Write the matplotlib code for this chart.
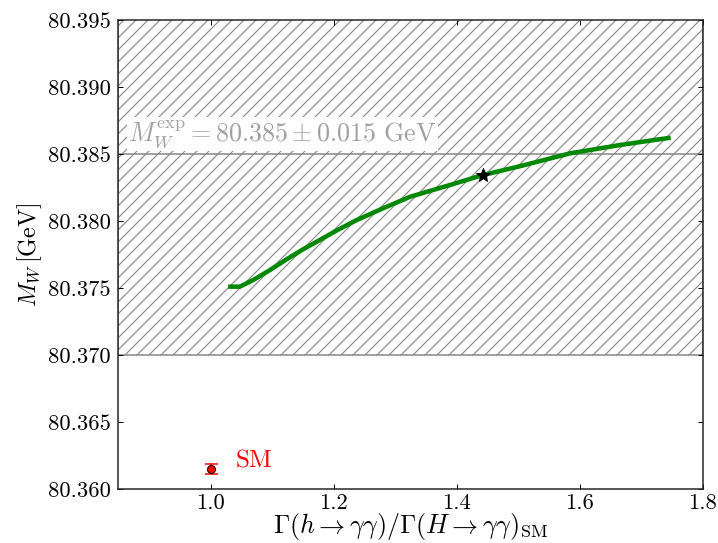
import matplotlib
matplotlib.use("Agg")
import matplotlib.pyplot as plt
from matplotlib.ticker import FormatStrFormatter, FixedLocator

plt.rcParams['font.family'] = 'serif'
plt.rcParams['font.serif'] = ['cmr10', 'DejaVu Serif']
plt.rcParams['mathtext.fontset'] = 'cm'
plt.rcParams['axes.formatter.use_mathtext'] = True
plt.rcParams['hatch.color'] = '#858585'
plt.rcParams['hatch.linewidth'] = 1.1

# data
curve_x = [1.028, 1.047, 1.069, 1.096, 1.123, 1.150, 1.177, 1.204, 1.237,
           1.280, 1.324, 1.389, 1.442, 1.500, 1.584, 1.665, 1.7475]
curve_y = [80.37510, 80.37510, 80.37560, 80.37634, 80.37714, 80.37789,
           80.37858, 80.37928, 80.38007, 80.38095, 80.38181, 80.38269,
           80.38343, 80.38406, 80.38505, 80.38567, 80.38622]
star_x = [1.4417]
star_y = [80.38343]
sm_x = [1.0]
sm_y = [80.36147]
sm_err = [0.00036]
mw_exp = 80.385
mw_err = 0.015
xticks = [1.0, 1.2, 1.4, 1.6, 1.8]
yticks = [80.360, 80.365, 80.370, 80.375, 80.380, 80.385, 80.390, 80.395]

fig = plt.figure(figsize=(718/72, 543/72), dpi=72)
ax = fig.add_axes([118/718, 54/543, 585/718, 469/543])

ax.axhspan(mw_exp - mw_err, mw_exp + mw_err, facecolor='none',
           edgecolor='#858585', hatch='//', linewidth=1.5, zorder=1)
ax.axhline(mw_exp, color='#858585', linewidth=1.5, zorder=1)

ax.plot(curve_x, curve_y, color='#008800', linewidth=4.5, zorder=3,
        solid_capstyle='butt', solid_joinstyle='round')
ax.plot(star_x, star_y, marker='*', color='black', markersize=15,
        linestyle='none', zorder=4)
ax.errorbar(sm_x, sm_y, yerr=sm_err, fmt='o', color='red', ecolor='red',
            markeredgecolor='black', markersize=8, capsize=6.5, elinewidth=1.5,
            capthick=1.5, zorder=4)
ax.text(1.04, 80.36209, 'SM', color='red', fontsize=25, va='center', ha='left')

ax.text(0.866, 80.38597, r'$M_W^{\rm exp} = 80.385 \pm 0.015\ {\rm GeV}$',
        color='#a0a0a0', fontsize=26, va='baseline', ha='left', zorder=2,
        bbox=dict(facecolor='white', edgecolor='none', pad=1))

ax.set_xlim(0.849, 1.8)
ax.set_ylim(80.360, 80.395)
ax.xaxis.set_major_locator(FixedLocator(xticks))
ax.yaxis.set_major_locator(FixedLocator(yticks))
ax.yaxis.set_major_formatter(FormatStrFormatter('%.3f'))
ax.xaxis.set_major_formatter(FormatStrFormatter('%.1f'))
ax.tick_params(direction='in', top=True, right=True, length=5, width=1,
               labelsize=22.5, pad=7)
ax.tick_params(axis='x', pad=4)
for s in ax.spines.values():
    s.set_linewidth(1.5)
    s.set_color('#222222')

ax.set_xlabel(r'$\Gamma(h\to\gamma\gamma)/\Gamma(H\to\gamma\gamma)_{\rm SM}$',
              fontsize=26, va='bottom')
ax.xaxis.set_label_coords(0.5, -53/469)
ax.set_ylabel(r'$M_W\,[{\rm GeV}]$', fontsize=24, labelpad=4)

fig.savefig('out.png', dpi=72)
